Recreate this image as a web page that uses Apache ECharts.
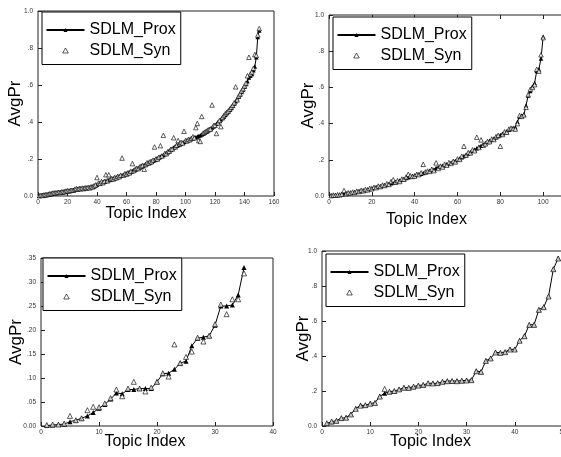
<!DOCTYPE html>
<html>
<head>
<meta charset="utf-8">
<script src="https://cdn.jsdelivr.net/npm/echarts@6/dist/echarts.min.js"></script>
<style>
  html, body { margin: 0; padding: 0; background: #fff; }
  #chart { width: 561px; height: 457px; }
</style>
</head>
<body>
<div id="chart"></div>
<script>
// series names
const seriesNames = ['SDLM_Prox', 'SDLM_Syn'];

// top-left panel, topics 1..150
const proxA = [
  0.002, 0.003, 0.004, 0.005, 0.006, 0.008, 0.009, 0.011, 0.013, 0.015,
  0.016, 0.017, 0.018, 0.019, 0.020, 0.021, 0.022, 0.024, 0.026, 0.027,
  0.028, 0.029, 0.030, 0.032, 0.034, 0.036, 0.038, 0.039, 0.040, 0.041,
  0.042, 0.043, 0.044, 0.045, 0.046, 0.048, 0.050, 0.053, 0.057, 0.062,
  0.066, 0.069, 0.072, 0.075, 0.078, 0.081, 0.084, 0.086, 0.089, 0.092,
  0.094, 0.097, 0.100, 0.103, 0.106, 0.109, 0.112, 0.115, 0.118, 0.121,
  0.124, 0.127, 0.131, 0.135, 0.139, 0.143, 0.147, 0.151, 0.155, 0.160,
  0.164, 0.168, 0.172, 0.176, 0.180, 0.183, 0.187, 0.191, 0.195, 0.199,
  0.203, 0.208, 0.213, 0.218, 0.222, 0.227, 0.232, 0.238, 0.244, 0.250,
  0.256, 0.262, 0.267, 0.272, 0.276, 0.280, 0.284, 0.288, 0.292, 0.297,
  0.300, 0.303, 0.306, 0.309, 0.312, 0.315, 0.318, 0.321, 0.324, 0.328,
  0.332, 0.337, 0.342, 0.347, 0.352, 0.358, 0.364, 0.370, 0.377, 0.384,
  0.391, 0.398, 0.405, 0.413, 0.421, 0.430, 0.439, 0.448, 0.457, 0.466,
  0.476, 0.488, 0.500, 0.512, 0.524, 0.536, 0.548, 0.562, 0.576, 0.590,
  0.605, 0.620, 0.640, 0.650, 0.660, 0.680, 0.700, 0.750, 0.860, 0.895
];
const synA = [
  0.001, 0.004, 0.003, 0.006, 0.007, 0.007, 0.010, 0.012, 0.012, 0.016,
  0.017, 0.016, 0.019, 0.020, 0.019, 0.022, 0.023, 0.023, 0.027, 0.028,
  0.027, 0.030, 0.031, 0.031, 0.036, 0.040, 0.037, 0.041, 0.039, 0.043,
  0.040, 0.045, 0.043, 0.047, 0.044, 0.050, 0.049, 0.055, 0.060, 0.100,
  0.070, 0.068, 0.078, 0.072, 0.080, 0.115, 0.082, 0.115, 0.090, 0.094,
  0.092, 0.100, 0.098, 0.106, 0.104, 0.112, 0.205, 0.113, 0.121, 0.118,
  0.126, 0.125, 0.134, 0.175, 0.137, 0.146, 0.150, 0.148, 0.158, 0.162,
  0.165, 0.145, 0.170, 0.180, 0.178, 0.186, 0.185, 0.194, 0.265, 0.201,
  0.200, 0.210, 0.272, 0.216, 0.328, 0.230, 0.229, 0.240, 0.242, 0.252,
  0.254, 0.315, 0.265, 0.274, 0.300, 0.282, 0.290, 0.286, 0.350, 0.300,
  0.298, 0.306, 0.304, 0.312, 0.320, 0.314, 0.370, 0.392, 0.300, 0.295,
  0.430, 0.340, 0.345, 0.350, 0.356, 0.360, 0.362, 0.492, 0.380, 0.382,
  0.338, 0.395, 0.408, 0.375, 0.424, 0.435, 0.445, 0.452, 0.460, 0.470,
  0.480, 0.490, 0.504, 0.590, 0.520, 0.540, 0.552, 0.568, 0.580, 0.595,
  0.610, 0.650, 0.750, 0.660, 0.670, 0.690, 0.765, 0.760, 0.870, 0.905
];

// top-right panel, topics 1..100
const proxB = [
  0.003, 0.004, 0.005, 0.006, 0.007, 0.009, 0.012, 0.014, 0.016, 0.018,
  0.020, 0.022, 0.024, 0.026, 0.028, 0.031, 0.033, 0.036, 0.039, 0.042,
  0.045, 0.048, 0.051, 0.054, 0.057, 0.060, 0.063, 0.066, 0.070, 0.074,
  0.078, 0.082, 0.086, 0.090, 0.094, 0.099, 0.104, 0.108, 0.111, 0.114,
  0.117, 0.120, 0.123, 0.127, 0.131, 0.135, 0.139, 0.143, 0.147, 0.155,
  0.159, 0.163, 0.167, 0.171, 0.175, 0.179, 0.184, 0.189, 0.194, 0.200,
  0.207, 0.214, 0.221, 0.228, 0.235, 0.242, 0.250, 0.257, 0.264, 0.272,
  0.278, 0.284, 0.291, 0.298, 0.305, 0.311, 0.318, 0.324, 0.331, 0.337,
  0.344, 0.351, 0.358, 0.366, 0.372, 0.376, 0.380, 0.410, 0.438, 0.445,
  0.450, 0.500, 0.555, 0.580, 0.605, 0.625, 0.690, 0.700, 0.760, 0.880
];
const synB = [
  0.002, 0.005, 0.004, 0.007, 0.006, 0.010, 0.030, 0.013, 0.018, 0.017,
  0.022, 0.020, 0.027, 0.025, 0.032, 0.029, 0.036, 0.034, 0.042, 0.040,
  0.048, 0.046, 0.055, 0.052, 0.061, 0.058, 0.068, 0.064, 0.080, 0.090,
  0.076, 0.085, 0.080, 0.094, 0.092, 0.105, 0.120, 0.112, 0.108, 0.110,
  0.120, 0.118, 0.128, 0.175, 0.133, 0.138, 0.136, 0.148, 0.140, 0.183,
  0.152, 0.165, 0.160, 0.176, 0.170, 0.185, 0.180, 0.192, 0.188, 0.205,
  0.202, 0.220, 0.275, 0.225, 0.240, 0.238, 0.255, 0.250, 0.325, 0.268,
  0.310, 0.280, 0.288, 0.302, 0.300, 0.315, 0.312, 0.328, 0.335, 0.275,
  0.340, 0.355, 0.352, 0.370, 0.375, 0.372, 0.370, 0.400, 0.445, 0.440,
  0.448, 0.490, 0.560, 0.590, 0.600, 0.615, 0.700, 0.690, 0.780, 0.875
];

// bottom-left panel, topics 1..35
const proxC = [
  0.001, 0.002, 0.003, 0.004, 0.009, 0.012, 0.016, 0.021, 0.028, 0.037,
  0.045, 0.056, 0.069, 0.067, 0.076, 0.076, 0.078, 0.078, 0.078, 0.092,
  0.109, 0.110, 0.118, 0.131, 0.135, 0.167, 0.183, 0.185, 0.188, 0.210,
  0.250, 0.250, 0.252, 0.273, 0.330
];
const synC = [
  0.002, 0.003, 0.003, 0.005, 0.021, 0.012, 0.016, 0.033, 0.040, 0.039,
  0.047, 0.058, 0.076, 0.062, 0.078, 0.092, 0.078, 0.072, 0.080, 0.092,
  0.110, 0.103, 0.170, 0.131, 0.144, 0.155, 0.184, 0.176, 0.188, 0.212,
  0.253, 0.233, 0.264, 0.264, 0.318
];

// bottom-right panel, topics 1..49
const proxD = [
  0.015, 0.025, 0.030, 0.044, 0.048, 0.067, 0.100, 0.118, 0.118, 0.128,
  0.133, 0.170, 0.187, 0.196, 0.200, 0.208, 0.219, 0.219, 0.225, 0.232,
  0.234, 0.244, 0.244, 0.244, 0.253, 0.257, 0.257, 0.257, 0.259, 0.261,
  0.263, 0.314, 0.310, 0.373, 0.387, 0.421, 0.419, 0.423, 0.438, 0.438,
  0.488, 0.514, 0.579, 0.579, 0.665, 0.680, 0.741, 0.897, 0.958
];
const synD = [
  0.016, 0.026, 0.030, 0.045, 0.047, 0.066, 0.098, 0.116, 0.119, 0.127,
  0.131, 0.168, 0.212, 0.196, 0.200, 0.209, 0.219, 0.218, 0.225, 0.231,
  0.235, 0.244, 0.243, 0.245, 0.253, 0.256, 0.257, 0.256, 0.259, 0.260,
  0.262, 0.313, 0.309, 0.372, 0.386, 0.420, 0.418, 0.422, 0.437, 0.437,
  0.487, 0.513, 0.578, 0.578, 0.664, 0.679, 0.740, 0.896, 0.957
];

// tick labels
const yLabelsUnit = ['0.0', '.2', '.4', '.6', '.8', '1.0'];
const yLabelsSmall = ['0.00', '.05', '.10', '.15', '.20', '.25', '.30', '.35'];

const FONT = 'Liberation Sans, Arial, sans-serif';
// open triangle for the legend, kept square inside the wide icon box
const TRI_ICON = 'path://M5,0L10,9L0,9Z';

const panels = [
  { prox: proxA, syn: synA, xMax: 160, xStep: 20, yMax: 1, yStep: 0.2, yLabels: yLabelsUnit,
    grid: { left: 38, top: 11, width: 236, height: 185 }, legend: { left: 42, top: 12 },
    sym: 4.5, yGap: 14, xGap: 10, xShift: 20 },
  { prox: proxB, syn: synB, xMax: 120, xStep: 20, yMax: 1, yStep: 0.2, yLabels: yLabelsUnit,
    grid: { left: 329, top: 15, width: 257, height: 181 }, legend: { left: 333, top: 17 },
    sym: 4.5, yGap: 12, xGap: 16, xShift: 62 },
  { prox: proxC, syn: synC, xMax: 40, xStep: 10, yMax: 0.35, yStep: 0.05, yLabels: yLabelsSmall,
    grid: { left: 41, top: 258, width: 232, height: 168 }, legend: { left: 43, top: 258 },
    sym: 5, yGap: 16, xGap: 8, xShift: 24 },
  { prox: proxD, syn: synD, xMax: 50, xStep: 10, yMax: 1, yStep: 0.2, yLabels: yLabelsUnit,
    grid: { left: 322, top: 251, width: 241, height: 175 }, legend: { left: 326, top: 254 },
    sym: 5, yGap: 10, xGap: 8, xShift: 24 }
];

const toPairs = arr => arr.map((v, i) => [i + 1, v]);

const grids = [], xAxes = [], yAxes = [], series = [], legends = [];

panels.forEach((p, k) => {
  grids.push(Object.assign({
    show: true, borderColor: '#222', borderWidth: 1,
    containLabel: false, outerBoundsMode: 'none'
  }, p.grid));
  xAxes.push({
    type: 'value', gridIndex: k, min: 0, max: p.xMax, interval: p.xStep,
    axisLine: { show: false },
    axisTick: { show: true, inside: true, length: 4, lineStyle: { color: '#222' } },
    axisLabel: { fontSize: 6.5, color: '#333', fontFamily: FONT, margin: 2.5 },
    splitLine: { show: false },
    name: 'Topic Index', nameLocation: 'middle', nameGap: p.xGap, nameMoveOverlap: false,
    nameTextStyle: { fontSize: 16, color: '#000', fontFamily: FONT, verticalAlign: 'top',
                     padding: [0, p.xShift, 0, 0] }
  });
  yAxes.push({
    type: 'value', gridIndex: k, min: 0, max: p.yMax, interval: p.yStep,
    axisLine: { show: false },
    axisTick: { show: true, inside: true, length: 4, lineStyle: { color: '#222' } },
    axisLabel: {
      fontSize: 6.5, color: '#333', fontFamily: FONT, margin: 5,
      formatter: v => p.yLabels[Math.round(v / p.yStep)]
    },
    splitLine: { show: false },
    name: 'AvgPr', nameLocation: 'middle', nameGap: p.yGap, nameRotate: 90, nameMoveOverlap: false,
    nameTextStyle: { fontSize: 17, color: '#000', fontFamily: FONT }
  });
  series.push({
    name: seriesNames[0], type: 'line', xAxisIndex: k, yAxisIndex: k,
    data: toPairs(p.prox), z: 2,
    symbol: 'triangle', symbolSize: p.sym,
    lineStyle: { color: '#000', width: 1 },
    itemStyle: { color: '#000' },
    animation: false
  });
  series.push({
    name: seriesNames[1], type: 'scatter', xAxisIndex: k, yAxisIndex: k,
    data: toPairs(p.syn), z: 4,
    symbol: 'triangle', symbolSize: p.sym,
    itemStyle: { color: '#fff', borderColor: '#000', borderWidth: 0.8 },
    animation: false
  });
  legends.push({
    left: p.legend.left, top: p.legend.top, orient: 'vertical',
    data: [
      { name: seriesNames[0] },
      { name: seriesNames[1], icon: TRI_ICON, symbolKeepAspect: true,
        itemStyle: { color: '#fff', borderColor: '#000', borderWidth: 0.8 } }
    ],
    selectedMode: false, z: 10,
    backgroundColor: '#fff', borderColor: '#000', borderWidth: 1,
    padding: [9, 5, 5, 3.5],
    itemWidth: 38, itemHeight: 5, itemGap: 2.5,
    textStyle: { fontSize: 16, lineHeight: 18, color: '#000', fontFamily: FONT }
  });
});

// top ticks on the top-right panel
xAxes.push({
  type: 'value', gridIndex: 1, position: 'top', min: 0, max: panels[1].xMax, interval: panels[1].xStep,
  axisLine: { show: false },
  axisTick: { show: true, inside: true, length: 4, lineStyle: { color: '#222' } },
  axisLabel: { show: false }, splitLine: { show: false }
});

const chart = echarts.init(document.getElementById('chart'), null, { renderer: 'canvas' });
chart.setOption({
  backgroundColor: '#fff',
  animation: false,
  grid: grids,
  xAxis: xAxes,
  yAxis: yAxes,
  legend: legends,
  series: series
});
</script>
</body>
</html>
